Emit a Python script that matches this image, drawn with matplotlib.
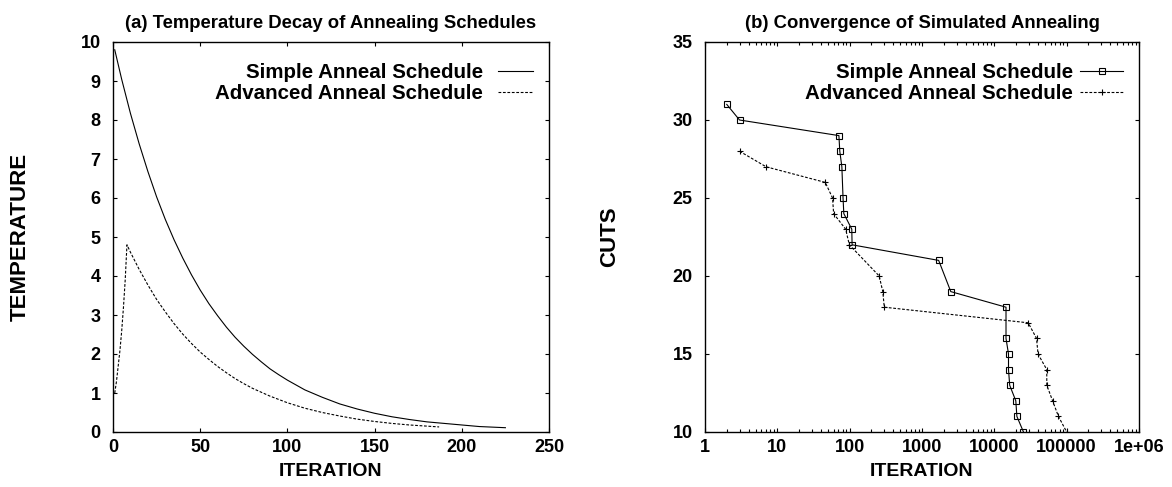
import matplotlib
matplotlib.use("Agg")
import matplotlib.pyplot as plt
from matplotlib.ticker import FixedLocator, FixedFormatter, LogLocator, NullFormatter

plt.rcParams['font.family'] = ['Liberation Sans', 'DejaVu Sans']
plt.rcParams['font.weight'] = 'bold'
plt.rcParams['font.size'] = 13

# (a) temperature decay
simple_iter = [1, 5, 10, 15, 20, 25, 30, 35, 40, 45, 50, 55, 60, 65, 70, 75, 80, 85, 90, 95,
               100, 110, 120, 130, 140, 150, 160, 170, 180, 190, 200, 210, 225]
simple_temp = [9.80, 9.04, 8.17, 7.39, 6.68, 6.03, 5.45, 4.93, 4.46, 4.03, 3.64, 3.29, 2.98,
               2.69, 2.43, 2.20, 1.99, 1.80, 1.62, 1.47, 1.33, 1.08, 0.89, 0.72, 0.59, 0.48,
               0.39, 0.32, 0.26, 0.22, 0.18, 0.14, 0.11]
adv_iter = [1, 2, 3, 4, 5, 6, 7, 8, 10, 15, 20, 25, 30, 35, 40, 45, 50, 55, 60, 65, 70, 75,
            80, 90, 100, 110, 120, 130, 140, 150, 160, 170, 187]
adv_temp = [1.0, 1.3, 1.7, 2.1, 2.6, 3.2, 3.9, 4.8, 4.61, 4.17, 3.77, 3.40, 3.08, 2.78, 2.51,
            2.27, 2.05, 1.86, 1.68, 1.52, 1.37, 1.24, 1.12, 0.92, 0.75, 0.61, 0.50, 0.41,
            0.33, 0.27, 0.22, 0.18, 0.13]

# (b) convergence
simple_cuts_iter = [2, 3, 71, 73, 78, 81, 83, 107, 108, 1700, 2500, 14500, 14500, 15700,
                    15700, 16300, 19800, 20500, 25300]
simple_cuts = [31, 30, 29, 28, 27, 25, 24, 23, 22, 21, 19, 18, 16, 15, 14, 13, 12, 11, 10]
adv_cuts_iter = [3, 7, 46, 58, 60, 88, 99, 256, 287, 301, 29400, 38300, 40200, 53100, 53100,
                 63900, 77000, 100000]
adv_cuts = [28, 27, 26, 25, 24, 23, 22, 20, 19, 18, 17, 16, 15, 14, 13, 12, 11, 10]

log_ticks = [1, 10, 100, 1000, 10000, 100000, 1000000]
log_labels = ["1", "10", "100", "1000", "10000", "100000", "1e+06"]

W, H = 1172, 487
fig = plt.figure(figsize=(W / 100, H / 100), dpi=100)
ax1 = fig.add_axes([113 / W, 1 - 432 / H, 436 / W, 390 / H])
ax2 = fig.add_axes([705 / W, 1 - 432 / H, 434 / W, 390 / H])

dash = (2.5, 1.5)
title_kw = dict(fontweight='bold', fontsize=13.3, pad=10)
label_kw = dict(fontweight='bold', fontsize=14)
ylabel_kw = dict(fontweight='bold', fontsize=16)
leg_kw = dict(loc='upper right', frameon=False, markerfirst=False, borderaxespad=0,
              borderpad=0, labelspacing=0.12, fontsize=14.8, numpoints=1)

ax1.plot(simple_iter, simple_temp, color='black', lw=0.8, label='Simple Anneal Schedule')
ax1.plot(adv_iter, adv_temp, color='black', lw=0.8, dashes=dash, label='Advanced Anneal Schedule')
ax1.set_xlim(0, 250)
ax1.set_ylim(0, 10)
ax1.set_xticks(range(0, 251, 50))
ax1.set_yticks(range(0, 11))
ax1.set_title('(a) Temperature Decay of Annealing Schedules', **title_kw)
ax1.set_xlabel('ITERATION', **label_kw)
ax1.set_ylabel('TEMPERATURE', **ylabel_kw)
ax1.legend(bbox_to_anchor=(1 - 16 / 436, 1 - 21 / 390), handlelength=1.68,
           handletextpad=0.77, **leg_kw)

ax2.plot(simple_cuts_iter, simple_cuts, color='black', lw=0.8, marker='s', ms=4,
         mfc='none', mew=0.8, label='Simple Anneal Schedule')
ax2.plot(adv_cuts_iter, adv_cuts, color='black', lw=0.8, dashes=dash, marker='+', ms=5,
         mew=0.8, label='Advanced Anneal Schedule')
ax2.set_xscale('log')
ax2.set_xlim(1, 1e6)
ax2.set_ylim(10, 35)
ax2.xaxis.set_major_locator(FixedLocator(log_ticks))
ax2.xaxis.set_major_formatter(FixedFormatter(log_labels))
ax2.xaxis.set_minor_locator(LogLocator(base=10, subs=range(2, 10), numticks=20))
ax2.xaxis.set_minor_formatter(NullFormatter())
ax2.set_yticks(range(10, 36, 5))
ax2.set_title('(b) Convergence of Simulated Annealing', **title_kw)
ax2.set_xlabel('ITERATION', **label_kw)
ax2.set_ylabel('CUTS', **ylabel_kw)
ax2.legend(bbox_to_anchor=(1 - 16 / 434, 1 - 21 / 390), handlelength=2.07,
           handletextpad=0.38, **leg_kw)

for ax, ylab_x in ((ax1, -93 / 436), (ax2, -95 / 434)):
    ax.tick_params(which='both', direction='in', top=True, right=True, width=0.8)
    ax.tick_params(which='major', length=3.2)
    ax.tick_params(which='minor', length=2)
    ax.tick_params(axis='x', pad=5)
    ax.tick_params(axis='y', pad=9)
    for s in ax.spines.values():
        s.set_linewidth(1.0)
    for lab in ax.get_xticklabels() + ax.get_yticklabels():
        lab.set_fontweight('bold')
    ax.xaxis.set_label_coords(0.5, -40 / 390)
    ax.xaxis.label.set_va('center')
    ax.yaxis.set_label_coords(ylab_x, 0.5)
    ax.yaxis.label.set_va('center')

fig.savefig('out.png', dpi=100)
